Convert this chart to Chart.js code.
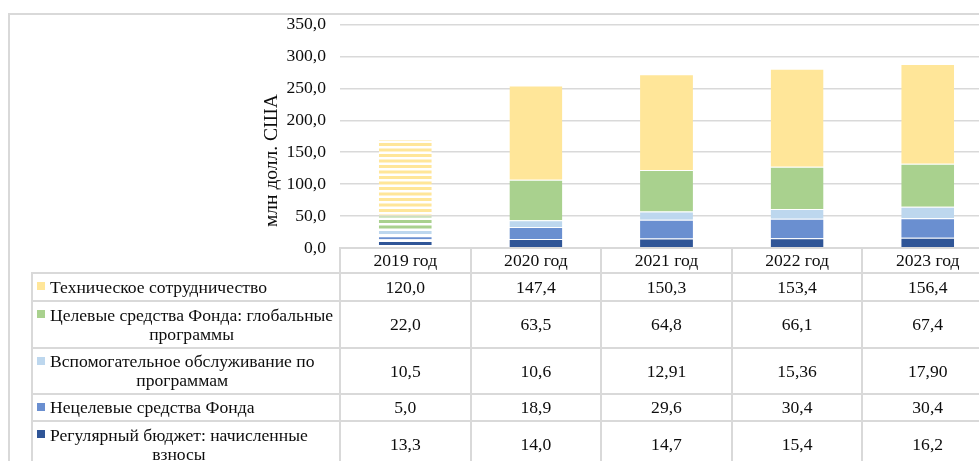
<!DOCTYPE html>
<html>
<head>
<meta charset="utf-8">
<script src="https://cdn.jsdelivr.net/npm/chart.js@4/dist/chart.umd.min.js"></script>
<style>
html,body{margin:0;padding:0;width:979px;height:461px;overflow:hidden;background:#fff;}
body{position:relative;font-family:"Liberation Serif","Times New Roman",serif;color:#0d0d0d;}
#frame{position:absolute;left:8px;top:13px;width:1200px;height:800px;border:2px solid #d9d9d9;box-sizing:border-box;}
#wrap{position:absolute;left:0;top:0;width:1000px;height:461px;}
#ytitle{position:absolute;left:261px;top:93px;height:136px;writing-mode:vertical-rl;transform:rotate(180deg);font-size:19.5px;line-height:20px;white-space:nowrap;text-align:center;}
#tbl{position:absolute;border-collapse:collapse;table-layout:fixed;font-size:17.6px;line-height:19px;}
#tbl td{border:2px solid #d9d9d9;padding:0;text-align:center;vertical-align:middle;white-space:nowrap;overflow:visible;}
#tbl td.blank{border-top:none;border-left:none;}
#tbl td.leg{text-align:left;position:relative;padding-left:17px;}
#tbl td.leg .mk{position:absolute;left:4px;width:8px;height:8px;}
#tbl td.leg .tx{display:inline-block;text-align:center;}
</style>
</head>
<body>
<div id="frame"></div>
<div id="wrap"><canvas id="c" width="1000" height="461"></canvas></div>
<div id="ytitle">млн долл. США</div>
<table id="tbl"></table>
<script>
const categories = ['2019 год','2020 год','2021 год','2022 год','2023 год'];
const technicalCooperation = [120.0,147.4,150.3,153.4,156.4];
const earmarkedGlobal = [22.0,63.5,64.8,66.1,67.4];
const programSupport = [10.5,10.6,12.91,15.36,17.90];
const nonEarmarked = [5.0,18.9,29.6,30.4,30.4];
const regularBudget = [13.3,14.0,14.7,15.4,16.2];
const programSupportDecimals = [1,1,2,2,2];
const yTickValues = [0,50,100,150,200,250,300,350];

const nameTechnical = ['Техническое сотрудничество'];
const nameEarmarked = ['Целевые средства Фонда: глобальные','программы'];
const nameSupport = ['Вспомогательное обслуживание по','программам'];
const nameNonEarmarked = ['Нецелевые средства Фонда'];
const nameRegular = ['Регулярный бюджет: начисленные','взносы'];

const colRegular = '#2f5597', colNon = '#6a8fd0', colSupport = '#bdd7ee', colEarmarked = '#a9d18e', colTech = '#ffe699';

const canvas = document.getElementById('c');
const ctx = canvas.getContext('2d');
function stripes(color){
  const p = document.createElement('canvas');
  p.width = 8; p.height = 11;
  const g = p.getContext('2d');
  g.fillStyle = '#ffffff'; g.fillRect(0,0,8,11);
  g.fillStyle = color; g.fillRect(0,0,8,3); g.fillRect(0,5.5,8,3);
  return ctx.createPattern(p,'repeat');
}
function fills(color){ return categories.map((c,i)=> i===0 ? stripes(color) : color); }

const series = [
  {name:nameRegular, data:regularBudget, color:colRegular, dec:[1,1,1,1,1]},
  {name:nameNonEarmarked, data:nonEarmarked, color:colNon, dec:[1,1,1,1,1]},
  {name:nameSupport, data:programSupport, color:colSupport, dec:programSupportDecimals},
  {name:nameEarmarked, data:earmarkedGlobal, color:colEarmarked, dec:[1,1,1,1,1]},
  {name:nameTechnical, data:technicalCooperation, color:colTech, dec:[1,1,1,1,1]}
];

const fmt = (v,d)=> v.toFixed(d).replace('.',',');

const chart = new Chart(ctx, {
  type:'bar',
  data:{
    labels:categories,
    datasets: series.map(s=>({label:s.name.join(' '), data:s.data, backgroundColor:fills(s.color), borderColor:'rgba(255,255,255,0.35)', borderWidth:{top:1,bottom:0,left:0,right:0}, categoryPercentage:1, barPercentage:0.405}))
  },
  options:{
    responsive:false, animation:false, events:[],
    layout:{padding:{left:0,top:24,right:7,bottom:213}},
    plugins:{legend:{display:false}, tooltip:{enabled:false}},
    scales:{
      x:{stacked:true, display:false},
      y:{stacked:true, min:0, max:350, border:{display:false},
         afterFit:(s)=>{ s.width = 340; },
         afterBuildTicks:(s)=>{ s.ticks = yTickValues.map(v=>({value:v})); },
         grid:{color:'#d9d9d9', lineWidth:1.5, drawTicks:false},
         ticks:{padding:14, color:'#0d0d0d', font:{family:'"Liberation Serif", serif', size:17.6}, callback:(v)=>fmt(v,1)}
      }
    }
  }
});

// build data table aligned to the chart's x scale
const xs = chart.scales.x;
const colW = (xs.right - xs.left)/categories.length;
const legLeft = 32;
const legW = xs.left - legLeft;
const tbl = document.getElementById('tbl');
tbl.style.left = (legLeft-1) + 'px';
tbl.style.top = '247px';
tbl.style.width = (legW + colW*categories.length + 2) + 'px';
let html = '<colgroup><col style="width:'+legW+'px">' + categories.map(()=>'<col style="width:'+colW+'px">').join('') + '</colgroup>';
html += '<tr style="height:25px"><td class="blank"></td>' + categories.map(c=>'<td>'+c+'</td>').join('') + '</tr>';
const rows = series.slice().reverse();
const heights = [28,47,46,27,47];
rows.forEach((s,ri)=>{
  html += '<tr style="height:'+heights[ri]+'px"><td class="leg"><span class="mk" style="background:'+s.color+';top:8px"></span><span class="tx">'+s.name.join('<br>')+'</span></td>' +
    s.data.map((v,i)=>'<td>'+fmt(v,s.dec[i])+'</td>').join('') + '</tr>';
});
tbl.innerHTML = html;
</script>
</body>
</html>
